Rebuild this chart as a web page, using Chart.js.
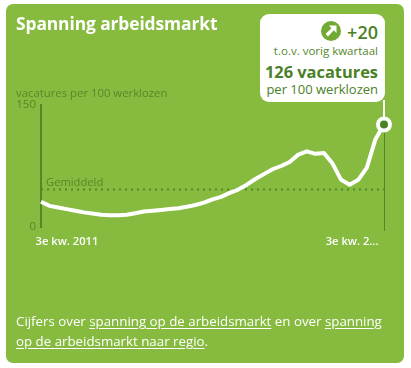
<!DOCTYPE html>
<html>
<head>
<meta charset="utf-8">
<script src="https://cdn.jsdelivr.net/npm/chart.js@4"></script>
<style>
html,body{margin:0;padding:0;background:#fff;width:411px;height:368px;overflow:hidden;font-family:"Open Sans",sans-serif}
#panel{position:absolute;left:6px;top:4px;width:398px;height:359px;background:#87bb3f;border-radius:7px}
canvas{position:absolute;left:0;top:0}
.t{position:absolute;white-space:nowrap;line-height:1}
#title{left:16px;top:15px;font-size:17.4px;font-weight:700;color:#fff;letter-spacing:-.1px}
#unit{left:16px;top:87px;font-size:11.35px;color:#55882a}
#avg{left:46px;top:176px;font-size:11.2px;color:#55882a}
#callout{position:absolute;left:260px;top:14px;width:125px;height:88px;background:#fff;border-radius:9px}
#conn{position:absolute;left:383px;top:100px;width:2px;height:20px;background:#fff}
.r{right:7px;color:#4a8026}
#delta{top:9px;font-size:18px;font-weight:600}
#vs{top:31px;font-size:11.5px;color:#55882a}
#val{top:50px;font-size:16.4px;font-weight:700}
#per{top:69px;font-size:13px;color:#4a8026}
svg{position:absolute;left:61px;top:7px}
.f{left:16px;font-size:13.3px;color:#fff}
.f u{text-underline-offset:2px}
</style>
</head>
<body>
<div id="panel"></div>
<canvas id="c" width="411" height="368"></canvas>
<div class="t" id="title">Spanning arbeidsmarkt</div>
<div class="t" id="unit">vacatures per 100 werklozen</div>
<div class="t" id="avg">Gemiddeld</div>
<div id="conn"></div>
<div id="callout">
<svg width="20" height="20" viewBox="0 0 20 20"><circle cx="10" cy="10" r="10" fill="#72a935"/><path d="M8 4.5H15.5V12L12.8 9.3 7 15.5 4.5 13 10.5 7.2z" fill="#fff"/></svg>
<div class="t r" id="delta">+20</div>
<div class="t r" id="vs">t.o.v. vorig kwartaal</div>
<div class="t r" id="val">126 vacatures</div>
<div class="t r" id="per">per 100 werklozen</div>
</div>
<div class="t f" style="top:315px">Cijfers over <u>spanning op de arbeidsmarkt</u> en over <u>spanning</u></div>
<div class="t f" style="top:335px"><u>op de arbeidsmarkt naar regio</u>.</div>
<script>
const categories = ['3e kw. 2011','4e kw. 2011','1e kw. 2012','2e kw. 2012','3e kw. 2012','4e kw. 2012','1e kw. 2013','2e kw. 2013','3e kw. 2013','4e kw. 2013','1e kw. 2014','2e kw. 2014','3e kw. 2014','4e kw. 2014','1e kw. 2015','2e kw. 2015','3e kw. 2015','4e kw. 2015','1e kw. 2016','2e kw. 2016','3e kw. 2016','4e kw. 2016','1e kw. 2017','2e kw. 2017','3e kw. 2017','4e kw. 2017','1e kw. 2018','2e kw. 2018','3e kw. 2018','4e kw. 2018','1e kw. 2019','2e kw. 2019','3e kw. 2019','4e kw. 2019','1e kw. 2020','2e kw. 2020','3e kw. 2020','4e kw. 2020','1e kw. 2021','2e kw. 2021','3e kw. 2021'];
const vacatures = [31,26,24,22,20,18,16.5,15,14.5,14.5,15,17,19,20,21,22,23,25,27,30,34,37,42,46,52,59,65,71,75,80,89,93,90,91,78,58,52,58,73,108,126];
const gemiddeld = [46,46,46,46,46,46,46,46,46,46,46,46,46,46,46,46,46,46,46,46,46,46,46,46,46,46,46,46,46,46,46,46,46,46,46,46,46,46,46,46,46];
const xTickFirst = '3e kw. 2011';
const xTickLast = '3e kw. 2...';
const yTicks = [0,150];
const last = vacatures.length-1;
const green='#55882a';
const rightLine={id:'rightLine',beforeDatasetsDraw(ch){
  const {ctx,scales:{x,y}}=ch;const px=Math.round(x.getPixelForValue(last))+.5;
  ctx.save();ctx.strokeStyle='#4f8a25';ctx.lineWidth=1;ctx.beginPath();
  ctx.moveTo(px,y.getPixelForValue(vacatures[last]));ctx.lineTo(px,y.bottom+4);ctx.stroke();ctx.restore();
}};
new Chart(document.getElementById('c'),{
  type:'line',
  data:{labels:categories,datasets:[
    {data:gemiddeld,borderColor:'#4f8a25',borderWidth:2,borderDash:[2,4],pointRadius:0,order:2},
    {data:vacatures,borderColor:'#fff',borderWidth:4,tension:0,borderJoinStyle:'round',
     pointRadius:c=>c.dataIndex===last?6:0,pointBackgroundColor:'#4a8026',pointBorderColor:'#fff',pointBorderWidth:4,order:1}
  ]},
  options:{
    responsive:false,animation:false,events:[],
    layout:{padding:{left:0,right:27,top:105,bottom:121}},
    plugins:{legend:{display:false},tooltip:{enabled:false}},
    scales:{
      x:{offset:false,grid:{display:false,drawTicks:false},border:{display:false},
        afterFit(s){s.height=20;},
        ticks:{autoSkip:false,maxRotation:0,minRotation:0,align:'inner',labelOffset:-5.5,padding:8,color:'#fff',
          font:{family:'"Open Sans"',size:11.2,weight:'600'},
          callback:(v,i)=>i===0?xTickFirst:i===last?xTickLast:''}},
      y:{min:0,max:150,
        afterFit(s){s.width=41;},
        afterBuildTicks(s){s.ticks=yTicks.map(v=>({value:v}));},
        grid:{display:false,drawTicks:false},border:{display:true,color:'#4f8a25',width:2},
        ticks:{padding:5,color:green,font:{family:'"Open Sans"',size:11.5}}}
    }
  },
  plugins:[rightLine]
});
</script>
</body>
</html>
